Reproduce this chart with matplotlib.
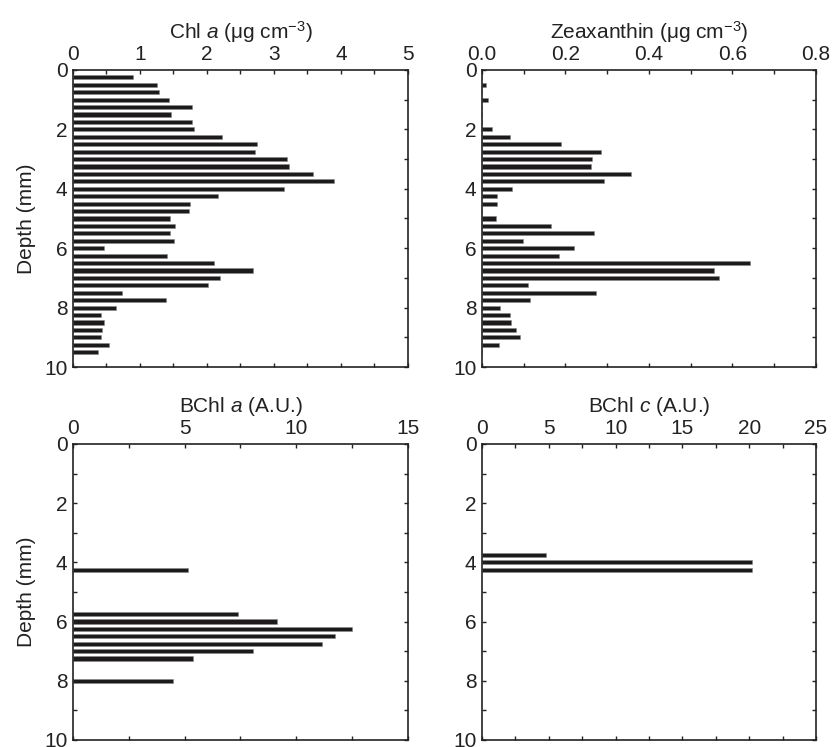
import numpy as np
import matplotlib
matplotlib.use('Agg')
from matplotlib import pyplot as plt
from matplotlib.ticker import MultipleLocator
from matplotlib.transforms import ScaledTranslation

plt.rcParams['font.family'] = ['Liberation Sans', 'DejaVu Sans']
plt.rcParams['mathtext.fontset'] = 'custom'
plt.rcParams['mathtext.rm'] = 'Liberation Sans'
plt.rcParams['mathtext.it'] = 'Liberation Sans:italic'

# depths in mm (0.25 mm slices)
depth = np.arange(1, 39) * 0.25

chl_a = [0.89, 1.26, 1.29, 1.43, 1.77, 1.46, 1.77, 1.80, 2.23, 2.74,
         2.72, 3.20, 3.23, 3.59, 3.89, 3.15, 2.17, 1.74, 1.73, 1.45,
         1.52, 1.45, 1.51, 0.46, 1.41, 2.10, 2.68, 2.20, 2.02, 0.73,
         1.39, 0.64, 0.42, 0.46, 0.44, 0.42, 0.54, 0.38]

zeaxanthin = [0.0, 0.010, 0.0, 0.015, 0.0, 0.0, 0.0, 0.024, 0.068, 0.189,
              0.286, 0.263, 0.260, 0.356, 0.293, 0.072, 0.035, 0.035, 0.0, 0.033,
              0.166, 0.269, 0.098, 0.221, 0.184, 0.643, 0.556, 0.567, 0.111, 0.273,
              0.116, 0.042, 0.066, 0.070, 0.082, 0.091, 0.040, 0.0]

bchl_a_depth = [4.25, 5.75, 6.0, 6.25, 6.5, 6.75, 7.0, 7.25, 8.0]
bchl_a = [5.14, 7.38, 9.15, 12.5, 11.75, 11.17, 8.06, 5.38, 4.50]

bchl_c_depth = [3.75, 4.0, 4.25]
bchl_c = [4.82, 20.2, 20.25]

panels = [
    (depth, chl_a, r'Chl $\mathit{a}$ ($\mathrm{\mu}$g cm$^{-3}$)', 5, 1, 0.5, None),
    (depth, zeaxanthin, r'Zeaxanthin ($\mathrm{\mu}$g cm$^{-3}$)', 0.8, 0.2, 0.1, '%.1f'),
    (bchl_a_depth, bchl_a, r'BChl $\mathit{a}$ (A.U.)', 15, 5, 2.5, None),
    (bchl_c_depth, bchl_c, r'BChl $\mathit{c}$ (A.U.)', 25, 5, 2.5, None),
]

boxes = [
    [0.0877, 0.5087, 0.4026, 0.3976],
    [0.5793, 0.5087, 0.4014, 0.3976],
    [0.0877, 0.0094, 0.4026, 0.3963],
    [0.5793, 0.0094, 0.4014, 0.3963],
]

fs = 15

fig = plt.figure(figsize=(8.32, 7.47), dpi=100)

for i, (d, v, title, xmax, major, minor, fmt) in enumerate(panels):
    ax = fig.add_axes(boxes[i])
    ax.barh(d, v, height=0.14, color='#1c1a1a', edgecolor='#8a8a8a',
            linewidth=0.4, align='center')
    ax.set_xlim(0, xmax)
    ax.set_ylim(10, 0)
    ax.xaxis.set_major_locator(MultipleLocator(major))
    ax.xaxis.set_minor_locator(MultipleLocator(minor))
    ax.yaxis.set_major_locator(MultipleLocator(2))
    ax.yaxis.set_minor_locator(MultipleLocator(1))
    if fmt:
        ax.xaxis.set_major_formatter(plt.FormatStrFormatter(fmt))
    ax.tick_params(which='both', direction='in', top=True, bottom=True,
                   left=True, right=True, labeltop=True, labelbottom=False,
                   length=3, width=1.0, labelsize=fs, pad=4, colors='#222222')
    for s in ax.spines.values():
        s.set_linewidth(1.2)
        s.set_color('#222222')
    ax.set_title(title, fontsize=fs, pad=5, color='#222222')
    if i % 2 == 0:
        ax.set_ylabel('Depth (mm)', fontsize=fs, labelpad=6, color='#222222')
    else:
        # keep the first top label clear of the depth "0"
        fig.canvas.draw()
        for t in ax.xaxis.get_major_ticks()[:1]:
            t.label2.set_transform(t.label2.get_transform() +
                                   ScaledTranslation(6 / 100, 0, fig.dpi_scale_trans))

fig.savefig('out.png', dpi=100)
